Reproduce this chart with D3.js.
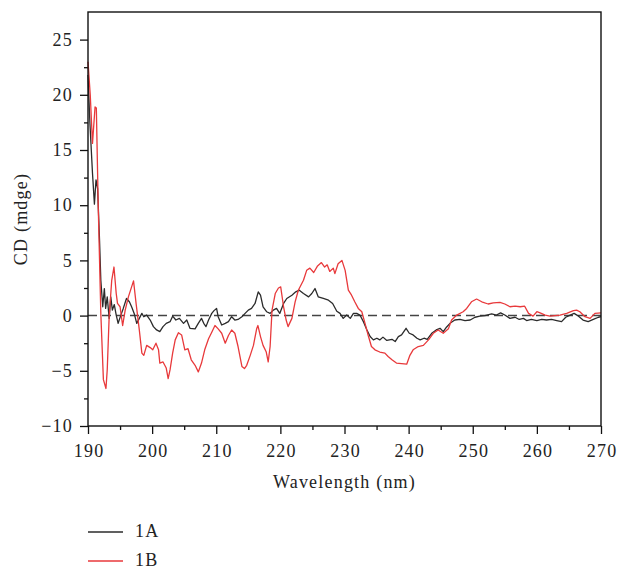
<!DOCTYPE html>
<html>
<head>
<meta charset="utf-8">
<script src="https://cdn.jsdelivr.net/npm/d3@7"></script>
<style>
  html, body { margin: 0; padding: 0; background: #fff; }
  svg { display: block; }
  text { font-family: "Liberation Serif", "DejaVu Serif", serif; fill: #222; letter-spacing: 1.2px; }
</style>
</head>
<body>
<script>
// ---- data ----
const xTicks = [190, 200, 210, 220, 230, 240, 250, 260, 270];
const yTicks = [-10, -5, 0, 5, 10, 15, 20, 25];
const seriesNames = ["1A", "1B"];

const wavelengthA = [190.0,190.3,190.7,191.0,191.25,191.5,191.8,192.0,192.3,192.55,192.75,193.0,193.3,193.55,193.8,194.1,194.4,194.7,195.1,195.5,196.0,196.45,196.8,197.2,197.6,198.0,198.4,198.7,199.15,199.7,200.2,200.7,201.2,201.7,202.2,202.8,203.2,203.7,204.25,204.9,205.4,205.9,206.7,207.2,207.7,208.05,208.4,208.8,209.3,209.65,210.05,210.3,210.85,211.4,211.9,212.4,212.9,213.4,214.0,214.5,215.0,215.5,216.05,216.55,216.9,217.3,217.85,218.4,218.9,219.4,219.9,220.5,221.0,221.8,222.4,222.95,223.6,224.4,224.9,225.4,225.9,226.7,227.5,228.15,228.8,229.3,229.8,230.35,230.9,231.4,231.9,232.4,232.95,233.5,234.0,234.5,235.05,235.5,236.0,236.6,237.4,237.9,238.4,238.9,239.6,240.1,240.7,241.3,241.8,242.4,242.9,243.6,244.3,244.9,245.4,245.9,246.45,247.2,248.0,248.8,249.6,250.35,251.1,251.9,252.95,253.7,254.35,255.0,255.8,256.6,257.25,257.9,258.4,259.15,260.0,260.75,261.5,262.3,263.1,263.85,264.5,265.2,265.8,266.5,267.2,268.0,268.8,269.6,270.0];
const cdA = [21.8,17.4,12.9,10.1,12.3,11.5,6.8,3.2,0.8,2.45,0.65,1.7,-0.25,1.7,0.5,1.0,0.05,-0.7,0.0,0.65,1.55,1.25,0.8,0.2,-0.7,-0.25,0.2,-0.1,0.05,-0.4,-1.0,-1.3,-1.45,-1.0,-0.7,-0.55,-0.05,-0.4,-0.25,-0.7,-0.4,-1.15,-1.2,-0.7,-0.25,-0.7,-1.0,-0.4,0.2,0.45,0.65,-0.1,-0.85,-0.7,-0.55,-0.1,-0.4,-0.35,-0.1,0.2,0.5,0.65,1.1,2.15,1.85,0.8,0.35,0.2,0.5,0.65,0.2,1.1,1.55,1.85,2.15,2.3,2.0,1.7,2.0,2.45,1.7,1.55,1.4,1.1,0.4,0.2,-0.25,0.05,-0.25,0.2,0.2,0.05,-0.55,-1.3,-1.9,-2.2,-2.05,-2.2,-1.95,-2.25,-2.15,-2.35,-1.9,-1.75,-1.15,-1.6,-1.75,-2.05,-2.2,-2.05,-2.15,-1.6,-1.3,-1.15,-1.45,-1.05,-0.7,-0.4,-0.35,-0.45,-0.4,-0.15,-0.05,0.0,0.15,0.05,0.25,0.05,-0.25,-0.15,-0.35,-0.25,-0.45,-0.35,-0.45,-0.35,-0.4,-0.35,-0.45,-0.55,-0.15,0.05,0.2,-0.05,-0.4,-0.55,-0.35,-0.15,-0.1];

const wavelengthB = [190.0,190.35,190.7,191.1,191.3,191.6,192.0,192.4,192.8,193.0,193.3,193.7,194.05,194.4,194.6,195.0,195.4,195.8,196.3,196.8,197.1,197.5,198.0,198.4,198.7,199.15,199.7,200.1,200.6,201.0,201.2,201.7,202.2,202.5,202.8,203.2,203.6,204.1,204.6,205.1,205.6,206.1,206.7,207.2,207.7,208.2,208.8,209.3,209.8,210.3,210.85,211.4,211.9,212.4,212.9,213.4,214.0,214.4,214.75,215.3,215.8,216.3,216.5,216.9,217.3,217.8,218.1,218.4,218.7,219.2,219.7,220.05,220.5,220.9,221.2,221.8,222.3,222.8,223.6,224.1,224.6,225.2,225.8,226.4,226.9,227.3,227.7,228.25,228.5,229.0,229.6,230.1,230.6,231.1,231.6,232.15,232.7,233.2,233.7,234.2,234.75,235.5,236.3,236.8,237.4,238.1,238.9,239.7,240.2,240.7,241.5,242.3,243.1,243.85,244.6,245.4,246.2,246.7,247.5,248.5,249.05,249.8,250.6,251.4,252.4,253.2,254.25,255.0,255.8,256.6,257.4,258.1,258.7,259.4,260.0,260.5,261.3,262.05,263.6,264.65,265.7,266.2,266.7,267.5,268.3,269.05,270.0];
const cdB = [23.0,20.0,15.6,18.9,18.8,9.8,0.2,-5.8,-6.6,-4.9,-0.1,3.2,4.4,2.0,1.1,0.8,-0.9,0.5,1.7,2.6,3.15,1.1,-1.3,-3.4,-3.6,-2.7,-2.9,-3.1,-2.5,-3.1,-4.3,-4.2,-4.75,-5.7,-4.9,-3.4,-2.2,-1.55,-1.75,-3.1,-3.0,-4.0,-4.5,-5.1,-4.3,-3.1,-2.1,-1.5,-0.9,-1.2,-1.6,-2.5,-1.8,-1.3,-1.6,-2.8,-4.6,-4.8,-4.5,-3.6,-2.7,-1.2,-0.9,-1.9,-2.7,-3.3,-4.2,-2.8,0.5,2.0,2.5,2.6,0.8,-0.4,-1.0,-0.25,1.25,2.3,3.2,4.1,4.3,3.9,4.5,4.8,4.4,4.6,4.0,4.3,3.8,4.7,5.0,4.1,2.3,1.85,1.25,0.65,0.35,-0.7,-1.8,-2.8,-3.1,-3.3,-3.4,-3.7,-4.0,-4.3,-4.35,-4.4,-3.6,-3.1,-2.8,-2.7,-2.2,-1.6,-1.3,-1.6,-1.2,-0.4,0.05,0.35,0.65,1.25,1.5,1.25,1.05,1.15,1.2,1.05,0.8,0.85,0.8,0.85,0.2,-0.05,0.35,0.25,0.05,-0.05,0.05,0.2,0.45,0.5,0.35,-0.1,-0.25,0.2,0.25];

const seriesColors = ["#2b2b2b", "#e8393b"];

// ---- layout ----
const W = 618, H = 569;
const mLeft = 88, mRight = 601, mTop = 12, mBottom = 426;

const svg = d3.select("body").append("svg").attr("width", W).attr("height", H);

const x = d3.scaleLinear().domain([190, 270]).range([mLeft, mRight]);
const y = d3.scaleLinear().domain([-10, 27.5]).range([mBottom, mTop]);

const FS = 18;

const xMinor = d3.range(195, 270, 10);
const yMinor = d3.range(-7.5, 27.5, 5);

const gx = svg.append("g").attr("transform", `translate(0,${mBottom})`);
gx.call(d3.axisBottom(x).tickValues(xTicks).tickSize(8).tickSizeOuter(0).tickPadding(10).tickFormat(d3.format("d")));
gx.append("g").call(d3.axisBottom(x).tickValues(xMinor).tickSize(4).tickFormat(""));
gx.selectAll(".domain").remove();

const gy = svg.append("g").attr("transform", `translate(${mLeft},0)`);
gy.call(d3.axisLeft(y).tickValues(yTicks).tickSize(8).tickSizeOuter(0).tickPadding(7)
  .tickFormat(d => d < 0 ? "\u2212" + Math.abs(d) : d));
gy.append("g").call(d3.axisLeft(y).tickValues(yMinor).tickSize(4).tickFormat(""));
gy.selectAll(".domain").remove();

svg.selectAll(".tick line").attr("stroke", "#111").attr("stroke-width", 1.3);
svg.selectAll(".tick text").attr("font-family", "Liberation Serif, serif").attr("font-size", FS).attr("fill", "#222");
gx.selectAll(".tick text").attr("dx", "0.6");

svg.append("line")
  .attr("x1", x(190)).attr("x2", x(270)).attr("y1", y(0)).attr("y2", y(0))
  .attr("stroke", "#444").attr("stroke-width", 1.5).attr("stroke-dasharray", "9,5");

const line = d3.line().x(d => x(d[0])).y(d => y(d[1]));
const dataA = wavelengthA.map((w, i) => [w, cdA[i]]);
const dataB = wavelengthB.map((w, i) => [w, cdB[i]]);

svg.append("path").datum(dataA).attr("d", line)
  .attr("fill", "none").attr("stroke", seriesColors[0]).attr("stroke-width", 1.3).attr("stroke-linejoin", "round");
svg.append("path").datum(dataB).attr("d", line)
  .attr("fill", "none").attr("stroke", seriesColors[1]).attr("stroke-width", 1.3).attr("stroke-linejoin", "round");

svg.append("rect").attr("x", mLeft).attr("y", mTop).attr("width", mRight - mLeft).attr("height", mBottom - mTop)
  .attr("fill", "none").attr("stroke", "#111").attr("stroke-width", 1.4);

svg.append("text").attr("x", (mLeft + mRight) / 2).attr("y", 488).attr("text-anchor", "middle")
  .attr("font-size", FS).text("Wavelength (nm)");
svg.append("text").attr("transform", `translate(27,${(mTop + mBottom) / 2}) rotate(-90)`).attr("text-anchor", "middle")
  .attr("font-size", FS).text("CD (mdge)");

const legY = [532, 561];
seriesNames.forEach((n, i) => {
  svg.append("line").attr("x1", 88).attr("x2", 123).attr("y1", legY[i]).attr("y2", legY[i])
    .attr("stroke", seriesColors[i]).attr("stroke-width", 1.3);
  svg.append("text").attr("x", 135).attr("y", legY[i] + 4.5).attr("font-size", FS).text(n);
});
</script>
</body>
</html>
